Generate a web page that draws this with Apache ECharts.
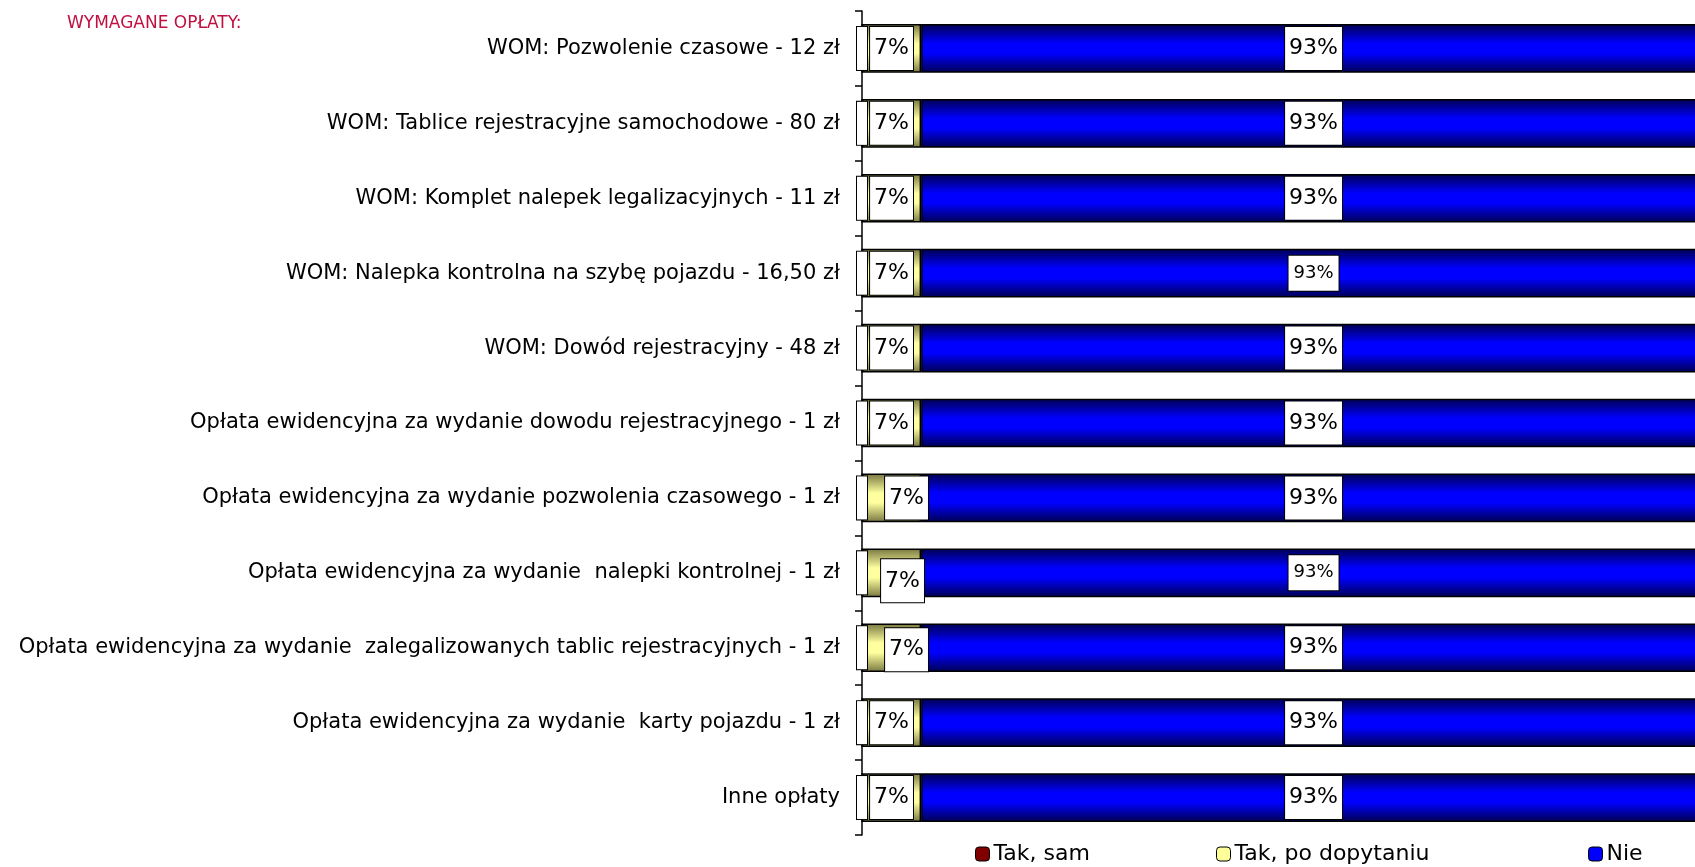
<!DOCTYPE html>
<html>
<head>
<meta charset="utf-8">
<script src="https://cdn.jsdelivr.net/npm/echarts@6/dist/echarts.min.js"></script>
<style>
  html, body { margin: 0; padding: 0; background: #fff; overflow: hidden; }
  #main { width: 1695px; height: 867px; }
</style>
</head>
<body>
<div id="main"></div>
<script>
// dane z wykresu
const categories = [
  'WOM: Pozwolenie czasowe - 12 zł',
  'WOM: Tablice rejestracyjne samochodowe - 80 zł',
  'WOM: Komplet nalepek legalizacyjnych - 11 zł',
  'WOM: Nalepka kontrolna na szybę pojazdu - 16,50 zł',
  'WOM: Dowód rejestracyjny - 48 zł',
  'Opłata ewidencyjna za wydanie dowodu rejestracyjnego - 1 zł',
  'Opłata ewidencyjna za wydanie pozwolenia czasowego - 1 zł',
  'Opłata ewidencyjna za wydanie  nalepki kontrolnej - 1 zł',
  'Opłata ewidencyjna za wydanie  zalegalizowanych tablic rejestracyjnych - 1 zł',
  'Opłata ewidencyjna za wydanie  karty pojazdu - 1 zł',
  'Inne opłaty'
];
const seriesNames = ['Tak, sam', 'Tak, po dopytaniu', 'Nie'];
const takSam = [0, 0, 0, 0, 0, 0, 0, 0, 0, 0, 0];
const takPoDopytaniu = [7, 7, 7, 7, 7, 7, 7, 7, 7, 7, 7];
const nie = [93, 93, 93, 93, 93, 93, 93, 93, 93, 93, 93];

const FONT = 'Tahoma, "DejaVu Sans", sans-serif';

// przesuniecia etykiet "7%" (jak w oryginale)
const yellowOffsets = { 6: [15, 0], 7: [11, 8], 8: [15, 2] };
// mniejsza czcionka etykiety "93%"
const smallNie = { 3: true, 7: true };

function grad(edge, mid) {
  return new echarts.graphic.LinearGradient(0, 0, 0, 1, [
    { offset: 0, color: edge },
    { offset: 0.4, color: mid },
    { offset: 0.6, color: mid },
    { offset: 1, color: edge }
  ]);
}

const boxLabel = {
  show: true,
  position: 'inside',
  formatter: '{c}%',
  color: '#000',
  fontFamily: FONT,
  fontSize: 22,
  backgroundColor: '#fff',
  borderColor: '#000',
  borderWidth: 1,
  padding: [11, 4, 10, 4]
};

function legendItem(name, color, left) {
  return {
    data: [{ name: name, itemStyle: { color: color, borderColor: '#000', borderWidth: 1 } }],
    left: left, top: 843, itemWidth: 14, itemHeight: 14, padding: 0,
    textStyle: { fontSize: 22, fontFamily: FONT, color: '#000', padding: [0, 0, 0, -1] }
  };
}

const chart = echarts.init(document.getElementById('main'));
chart.setOption({
  animation: false,
  title: {
    text: 'WYMAGANE OPŁATY:',
    left: 62,
    top: 10,
    textStyle: { color: '#c0103f', fontSize: 17, fontWeight: 'normal', fontFamily: FONT }
  },
  // wykres wychodzi poza prawą krawędź, jak w oryginale
  grid: { left: 862, width: 844, top: 11, height: 824, outerBoundsMode: 'none' },
  xAxis: { type: 'value', min: 0, max: 100, show: false },
  yAxis: {
    type: 'category',
    inverse: true,
    data: categories,
    axisLine: { lineStyle: { color: '#000', width: 1.5 } },
    axisTick: { show: true, length: 7, lineStyle: { color: '#000', width: 1.5 } },
    axisLabel: { color: '#000', fontSize: 21, fontFamily: FONT, margin: 22 }
  },
  legend: [
    legendItem(seriesNames[0], '#800000', 975),
    legendItem(seriesNames[1], '#ffff99', 1216),
    legendItem(seriesNames[2], '#0000ff', 1588)
  ],
  series: [
    {
      name: seriesNames[0],
      type: 'bar',
      stack: 'all',
      barCategoryGap: '35%',
      itemStyle: { color: '#800000', borderColor: '#000', borderWidth: 1.5 },
      label: Object.assign({}, boxLabel, { formatter: ' ', padding: [11, 2, 10, 1] }),
      data: takSam
    },
    {
      name: seriesNames[1],
      type: 'bar',
      stack: 'all',
      itemStyle: { color: grad('#76763f', '#ffffa0'), borderColor: '#000', borderWidth: 1.5 },
      label: boxLabel,
      data: takPoDopytaniu.map((v, i) => yellowOffsets[i] ? { value: v, label: { offset: yellowOffsets[i] } } : v)
    },
    {
      name: seriesNames[2],
      type: 'bar',
      stack: 'all',
      itemStyle: { color: grad('#000050', '#0000ff'), borderColor: '#000', borderWidth: 1.5 },
      label: boxLabel,
      data: nie.map((v, i) => smallNie[i] ? { value: v, label: { fontSize: 18, padding: [9, 5, 8, 5] } } : v)
    }
  ]
});
</script>
</body>
</html>
